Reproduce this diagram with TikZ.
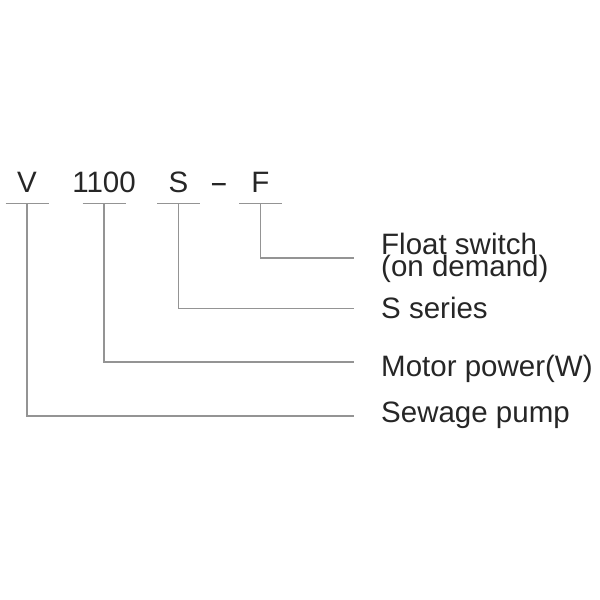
\documentclass[tikz,border=0pt]{standalone}
\usepackage{fontspec}
\setmainfont{Liberation Sans}
\usetikzlibrary{calc,positioning}
\tikzset{
	code/.style={font=\fontsize{29.5}{30}\selectfont, text=black!85, inner xsep=0pt, inner ysep=10pt, text depth=0pt, anchor=base},
	lab/.style={font=\fontsize{29.5}{22}\selectfont, text=black!85, inner sep=0pt, anchor=base west, align=left},
	lead/.style={draw=black!42, line width=1.2pt}
}
\def\codeline(#1){\draw[lead] ($(#1.south)+(-21.5,0)$) -- ++(43,0);}

\begin{document}
\begin{tikzpicture}[x=1pt, y=1pt]
		%%%%% START %%%%%
		\useasboundingbox (0,0) rectangle (600,600);
		
		\node[code] (v) at (27,407) {V};
		\node[code] (pw) at (104,407) {1100};
		\node[code] (s) at (178.5,407) {S};
		\node[code] (dash) at (219,407) {\scalebox{1.9}[1]{-}};
		\node[code] (f) at (260.5,407) {F};
		
		\codeline(v)
		\codeline(pw)
		\codeline(s)
		\codeline(f)
		
		\coordinate (fend) at (354,342);
		\coordinate (send) at (354,291.5);
		\coordinate (pwend) at (354,238);
		\coordinate (vend) at (354,184);
		
		\node[lab] (float) at (381,323) {Float switch\\(on demand)};
		\node[lab] (series) at (381,281.5) {S series};
		\node[lab] (motor) at (381,223) {Motor power(W)};
		\node[lab] (sewage) at (381,177.5) {Sewage pump};
		
		\draw[lead] (f.south) |- (fend);
		\draw[lead] (s.south) |- (send);
		\draw[lead] (pw.south) |- (pwend);
		\draw[lead] (v.south) |- (vend);
		
		%%%%% END %%%%%
\end{tikzpicture}
\end{document}
